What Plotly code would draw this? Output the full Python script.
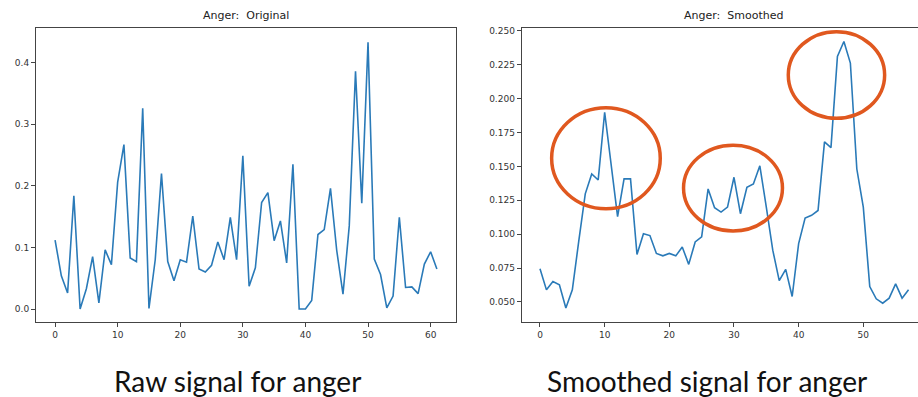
import plotly.graph_objects as go

raw_x = list(range(62))
raw_anger = [0.112, 0.054, 0.026, 0.184, 0.0, 0.033, 0.085, 0.010, 0.096, 0.072,
             0.206, 0.267, 0.083, 0.077, 0.326, 0.001, 0.080, 0.220, 0.077, 0.046,
             0.080, 0.076, 0.151, 0.065, 0.060, 0.071, 0.109, 0.080, 0.149, 0.080,
             0.249, 0.037, 0.067, 0.173, 0.189, 0.111, 0.143, 0.075, 0.235, 0.0,
             0.0, 0.014, 0.121, 0.129, 0.196, 0.095, 0.024, 0.135, 0.386, 0.172,
             0.433, 0.081, 0.056, 0.002, 0.021, 0.149, 0.035, 0.036, 0.025, 0.073,
             0.093, 0.065]

smooth_x = list(range(58))
smooth_anger = [0.0745, 0.0589, 0.0650, 0.0626, 0.0455, 0.0589, 0.0950, 0.1298, 0.1444, 0.1400,
                0.1900, 0.1520, 0.1130, 0.1408, 0.1408, 0.0850, 0.1004, 0.0990, 0.0858, 0.0840,
                0.0858, 0.0840, 0.0906, 0.0777, 0.0943, 0.0980, 0.1334, 0.1195, 0.1163, 0.1200,
                0.1420, 0.1151, 0.1346, 0.1371, 0.1505, 0.1200, 0.0882, 0.0657, 0.0740, 0.0540,
                0.0931, 0.1119, 0.1139, 0.1175, 0.1681, 0.1639, 0.2312, 0.2422, 0.2263, 0.1481,
                0.1200, 0.0613, 0.0523, 0.0491, 0.0528, 0.0633, 0.0528, 0.0589]

left_yticks = [0.0, 0.1, 0.2, 0.3, 0.4]
right_yticks = [0.050, 0.075, 0.100, 0.125, 0.150, 0.175, 0.200, 0.225, 0.250]
xticks = [0, 10, 20, 30, 40, 50, 60]

# highlight ellipses on the smoothed panel (data coords: x0, x1, y0, y1)
circles = [(1.8, 18.6, 0.1188, 0.1933), (22.2, 37.5, 0.1024, 0.1657), (38.4, 53.3, 0.1855, 0.2495)]

line_color = "#2a7ab8"
axis_color = "#444444"
tick_font = dict(family="DejaVu Sans", size=9, color="#333333")

fig = go.Figure()
fig.add_trace(go.Scatter(x=raw_x, y=raw_anger, mode="lines",
                         line=dict(color=line_color, width=1.6), xaxis="x", yaxis="y",
                         showlegend=False, hoverinfo="skip"))
fig.add_trace(go.Scatter(x=smooth_x, y=smooth_anger, mode="lines",
                         line=dict(color=line_color, width=1.6), xaxis="x2", yaxis="y2",
                         showlegend=False, hoverinfo="skip"))

common_x = dict(tickvals=xticks, ticks="outside", ticklen=4, tickcolor=axis_color,
                showgrid=False, zeroline=False, showline=True, linecolor=axis_color,
                linewidth=1, mirror=True, tickfont=tick_font)
common_y = dict(ticks="outside", ticklen=4, tickcolor=axis_color, showgrid=False,
                zeroline=False, showline=True, linecolor=axis_color, linewidth=1,
                tickfont=tick_font)

fig.update_layout(
    width=918, height=397, margin=dict(l=0, r=0, t=0, b=0),
    paper_bgcolor="white", plot_bgcolor="white",
    xaxis=dict(domain=[0.0392, 0.4967], range=[-3.05, 64.05], anchor="y", **common_x),
    yaxis=dict(domain=[0.1889, 0.9332], range=[-0.0217, 0.4557], anchor="x",
               tickvals=left_yticks, ticktext=[f"{v:.1f}" for v in left_yticks],
               mirror=True, **common_y),
    xaxis2=dict(domain=[0.5683, 1.0], range=[-2.83, 58.46], anchor="y2", **common_x),
    yaxis2=dict(domain=[0.1889, 0.9332], range=[0.0349, 0.2519], anchor="x2",
                tickvals=right_yticks, ticktext=[f"{v:.3f}" for v in right_yticks],
                mirror=False, **common_y),
)

for (x0, x1, y0, y1) in circles:
    fig.add_shape(type="circle", xref="x2", yref="y2", x0=x0, x1=x1, y0=y0, y1=y1,
                  line=dict(color="#e0581f", width=3.5))

title_font = dict(family="DejaVu Sans", size=11, color="#222222")
fig.add_annotation(text="Anger:\u00a0\u00a0Original", x=246 / 918, y=1 - 14 / 397, xref="paper", yref="paper",
                   xanchor="center", yanchor="middle", showarrow=False, font=title_font)
fig.add_annotation(text="Anger:\u00a0\u00a0Smoothed", x=733 / 918, y=1 - 14 / 397, xref="paper", yref="paper",
                   xanchor="center", yanchor="middle", showarrow=False, font=title_font)
cap_font = dict(family="Lato", size=28, color="#111111")
fig.add_annotation(text="Raw signal for anger", x=237 / 918, y=1 - 381 / 397, xref="paper", yref="paper",
                   xanchor="center", yanchor="middle", showarrow=False, font=cap_font)
fig.add_annotation(text="Smoothed signal for anger", x=707 / 918, y=1 - 381 / 397, xref="paper", yref="paper",
                   xanchor="center", yanchor="middle", showarrow=False, font=cap_font)

fig.write_html("out.html")
